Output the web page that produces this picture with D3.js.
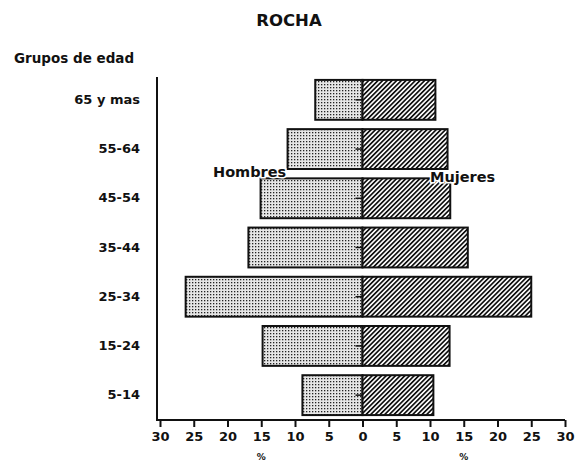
<!DOCTYPE html>
<html>
<head>
<meta charset="utf-8">
<script src="https://cdn.jsdelivr.net/npm/d3@7"></script>
<style>
  body { margin: 0; background: #fff; }
  text { font-family: "DejaVu Sans", Arial, sans-serif; font-weight: bold; fill: #111; }
</style>
</head>
<body>
<svg id="chart" width="586" height="463"></svg>
<script>
// age groups, top to bottom
const grupos = ['65 y mas', '55-64', '45-54', '35-44', '25-34', '15-24', '5-14'];
// percent of population
const hombres = [7.0, 11.1, 15.1, 16.9, 26.2, 14.8, 8.9];
const mujeres = [10.8, 12.6, 13.0, 15.6, 25.0, 12.9, 10.5];
const ticks = [-30, -25, -20, -15, -10, -5, 0, 5, 10, 15, 20, 25, 30];

const svg = d3.select('#chart');

// fill patterns
const defs = svg.append('defs');
const dots = defs.append('pattern')
  .attr('id', 'dots')
  .attr('patternUnits', 'userSpaceOnUse')
  .attr('width', 3).attr('height', 3);
dots.append('rect').attr('width', 3).attr('height', 3).attr('fill', '#e6e6e6');
dots.append('rect').attr('width', 1.3).attr('height', 1.3).attr('fill', '#222');

const hatch = defs.append('pattern')
  .attr('id', 'hatch')
  .attr('patternUnits', 'userSpaceOnUse')
  .attr('width', 3.3).attr('height', 3.3)
  .attr('patternTransform', 'rotate(45)');
hatch.append('rect').attr('width', 3.3).attr('height', 3.3).attr('fill', '#fff');
hatch.append('rect').attr('width', 1.7).attr('height', 3.3).attr('fill', '#111');

const x = d3.scaleLinear().domain([-30, 30]).range([160, 565]);
const y = d3.scaleBand().domain(grupos).range([75, 420])
  .paddingInner(0.19).paddingOuter(0.1);

// title
svg.append('text')
  .attr('x', 289).attr('y', 26)
  .attr('text-anchor', 'middle')
  .style('font-size', '16.5px')
  .text('ROCHA');

svg.append('text')
  .attr('x', 14).attr('y', 63)
  .style('font-size', '13.5px')
  .text('Grupos de edad');

// bars
const rows = grupos.map((g, i) => ({ g, h: hombres[i], m: mujeres[i] }));

svg.selectAll('.hombre').data(rows).join('rect')
  .attr('class', 'hombre')
  .attr('x', d => x(-d.h))
  .attr('y', d => y(d.g))
  .attr('width', d => x(0) - x(-d.h))
  .attr('height', y.bandwidth())
  .attr('fill', 'url(#dots)')
  .attr('stroke', '#111').attr('stroke-width', 2);

svg.selectAll('.mujer').data(rows).join('rect')
  .attr('class', 'mujer')
  .attr('x', x(0))
  .attr('y', d => y(d.g))
  .attr('width', d => x(d.m) - x(0))
  .attr('height', y.bandwidth())
  .attr('fill', 'url(#hatch)')
  .attr('stroke', '#111').attr('stroke-width', 2);

// small centre marks
svg.selectAll('.mark').data(grupos).join('line')
  .attr('x1', x(0) - 7).attr('x2', x(0))
  .attr('y1', d => y(d) + y.bandwidth() / 2)
  .attr('y2', d => y(d) + y.bandwidth() / 2)
  .attr('stroke', '#111').attr('stroke-width', 1.5);

// y axis
const yAxis = svg.append('g')
  .attr('transform', 'translate(157,0)')
  .call(d3.axisLeft(y).tickSize(0).tickPadding(17));
yAxis.select('.domain').attr('d', 'M0,77V421').attr('stroke', '#111').attr('stroke-width', 2);
yAxis.selectAll('text').style('font-size', '13px');

// x axis
const xAxis = svg.append('g')
  .attr('transform', 'translate(0,420)')
  .call(d3.axisBottom(x).tickValues(ticks).tickSize(7).tickPadding(5)
    .tickFormat(d => Math.abs(d)));
xAxis.select('.domain').attr('d', 'M157,0H565').attr('stroke', '#111').attr('stroke-width', 2);
xAxis.selectAll('line').attr('stroke', '#111').attr('stroke-width', 2);
xAxis.selectAll('text').style('font-size', '13px');

// percent signs under the axis
[-15, 15].forEach(v => {
  svg.append('text')
    .attr('x', x(v)).attr('y', 460)
    .attr('text-anchor', 'middle')
    .style('font-size', '9px')
    .text('%');
});

// series labels
svg.append('text')
  .attr('x', 213).attr('y', 177)
  .style('font-size', '14.5px')
  .attr('stroke', '#fff').attr('stroke-width', 3).attr('paint-order', 'stroke')
  .text('Hombres');
svg.append('text')
  .attr('x', 430).attr('y', 182)
  .style('font-size', '14.5px')
  .attr('stroke', '#fff').attr('stroke-width', 3).attr('paint-order', 'stroke')
  .text('Mujeres');
</script>
</body>
</html>
